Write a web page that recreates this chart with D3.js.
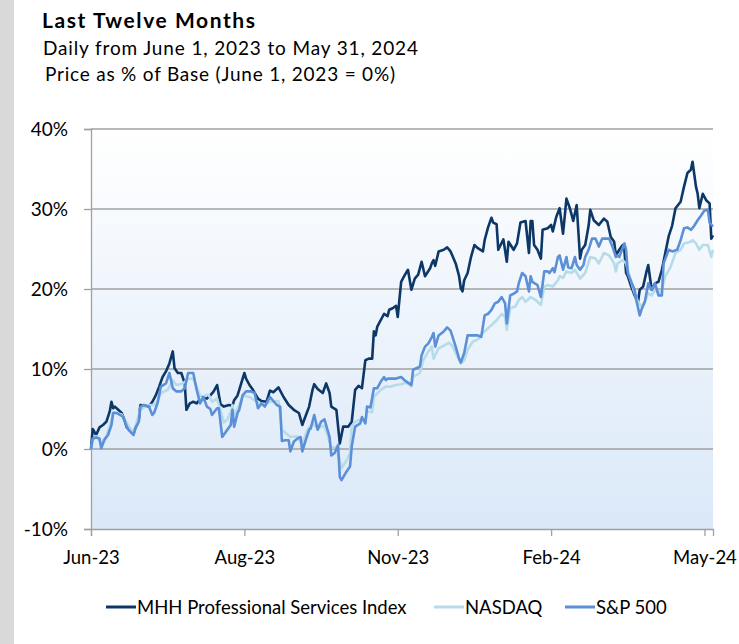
<!DOCTYPE html>
<html>
<head>
<meta charset="utf-8">
<script src="https://cdn.jsdelivr.net/npm/d3@7"></script>
<style>
  body { margin: 0; background: #fff; }
  svg { display: block; font-family: Lato, "Open Sans", sans-serif; }
</style>
</head>
<body>
<div id="chart"></div>
<script>
// [days since June 1, 2023, % change vs base]
const mhhSeries = [[0,0],[1,2.5],[3,1.75],[5,2.7],[7,3.0],[9,3.4],[11,4.7],[12,5.9],[13,5.1],[14,5.3],[16,4.9],[18,4.5],[20,3.4],[21,2.7],[23,2.4],[25,2.0],[26,2.6],[28,3.6],[29,5.5],[32,5.4],[34,5.3],[36,5.9],[38,6.7],[40,7.8],[42,9.0],[44,9.7],[46,10.7],[48,12.2],[49,10.1],[51,9.5],[53,9.5],[55,8.2],[56,4.9],[58,5.7],[60,5.9],[62,5.7],[65,6.5],[68,6.3],[70,6.7],[72,7.2],[74,8.0],[76,5.6],[78,5.3],[81,5.5],[83,5.4],[84,6.1],[86,6.7],[87,7.4],[90,9.5],[91,8.8],[93,8.0],[95,7.4],[98,6.3],[100,6.0],[103,5.9],[105,7.3],[107,7.1],[110,7.7],[113,6.5],[116,5.5],[119,4.9],[122,4.5],[124,3.0],[125,3.6],[128,5.3],[130,7.4],[131,8.1],[133,7.5],[136,7.0],[138,8.2],[140,7.0],[141,5.3],[144,4.9],[146,0.7],[148,2.8],[151,2.8],[153,3.4],[155,7.4],[157,7.9],[159,7.6],[161,11.1],[163,11.3],[165,11.3],[166,14.7],[167,14.2],[168,15.3],[171,16.5],[172,16.9],[174,16.6],[175,17.4],[177,17.6],[179,17.9],[180,16.5],[182,20.9],[184,21.7],[186,22.4],[188,19.9],[190,21.3],[192,21.8],[194,23.4],[196,21.6],[199,22.6],[200,23.2],[201,23.6],[202,22.9],[204,24.7],[207,24.9],[209,25.2],[211,24.7],[214,23.2],[216,21.6],[217,20.1],[218,19.7],[219,21.1],[221,22.0],[223,24.0],[225,25.5],[227,25.1],[230,24.7],[231,26.1],[233,27.7],[235,28.9],[236,28.3],[238,28.1],[239,24.9],[242,26.2],[244,23.4],[245,25.9],[248,24.9],[250,25.7],[252,28.3],[255,28.5],[257,24.5],[258,28.5],[259,28.5],[260,25.5],[262,24.9],[264,23.8],[265,27.4],[268,27.6],[270,28.0],[271,27.2],[273,29.0],[275,30.1],[277,26.9],[279,31.3],[281,30.1],[283,28.5],[285,30.5],[287,23.8],[288,24.9],[290,25.5],[292,27.9],[293,29.9],[295,28.6],[298,28.0],[301,28.8],[303,28.4],[305,26.5],[307,25.9],[308,24.2],[310,24.9],[312,25.5],[313,24.9],[314,22.0],[315,21.6],[317,20.3],[319,19.2],[321,18.4],[322,19.9],[324,20.3],[326,22.2],[327,23.0],[329,19.9],[331,20.7],[333,20.9],[335,22.4],[337,24.5],[339,26.6],[341,27.9],[343,30.1],[346,30.9],[348,32.8],[350,34.5],[352,34.9],[353,35.9],[355,32.8],[356,31.9],[357,30.1],[359,31.9],[361,31.1],[363,30.7],[364,26.3],[365,26.7]];

const nasdaqSeries = [[0,0],[1,1.1],[3,1.6],[6,0.7],[9,1.6],[12,3.6],[13,4.6],[18,4.3],[23,2.6],[25,2.0],[29,5.0],[34,5.5],[37,5.5],[39,5.9],[41,7.0],[45,7.4],[48,8.6],[50,8.0],[54,8.2],[57,8.8],[60,8.8],[62,7.8],[65,6.1],[67,6.7],[69,6.8],[71,5.9],[74,6.3],[78,3.3],[80,3.7],[82,4.6],[83,5.5],[84,4.2],[87,5.5],[89,6.7],[93,6.5],[98,5.8],[102,5.5],[105,5.9],[110,6.0],[112,2.4],[117,1.5],[121,1.6],[124,0.6],[127,2.4],[130,3.2],[133,2.6],[137,2.9],[141,0.2],[144,0.2],[147,-2.4],[150,-1.4],[152,-0.5],[153,2.8],[155,3.4],[159,3.8],[161,3.4],[162,4.7],[165,4.6],[166,6.5],[170,7.4],[173,7.8],[176,7.8],[179,8.0],[182,8.1],[185,8.3],[188,7.8],[189,9.0],[193,9.5],[195,11.1],[198,12.2],[200,12.8],[201,11.3],[204,12.6],[207,12.9],[210,13.3],[212,12.9],[214,12.0],[217,10.7],[219,11.1],[221,12.4],[224,13.4],[227,13.7],[230,14.5],[232,14.9],[234,15.3],[238,16.1],[241,16.9],[243,16.5],[244,14.9],[246,17.6],[249,17.8],[251,18.6],[253,19.0],[255,18.4],[258,19.0],[261,18.6],[264,18.0],[266,20.3],[268,20.5],[271,20.3],[274,21.1],[275,21.6],[277,21.4],[279,22.2],[282,22.0],[284,22.4],[287,21.3],[290,22.0],[293,24.0],[296,23.8],[298,23.2],[301,24.5],[304,24.2],[307,23.2],[308,22.2],[309,23.2],[312,23.6],[314,23.2],[316,21.6],[319,19.5],[321,18.4],[323,17.8],[325,18.4],[327,19.5],[329,19.2],[331,19.9],[333,19.5],[335,19.9],[337,21.6],[340,22.7],[343,24.5],[346,24.9],[348,25.7],[352,25.9],[353,26.1],[355,25.7],[357,24.9],[359,25.5],[361,25.5],[362,25.5],[364,24.0],[365,24.9]];

const spSeries = [[0,0],[1,1.3],[3,1.45],[5,1.3],[6,0.1],[8,1.2],[10,1.75],[12,3.0],[13,4.5],[15,4.5],[17,4.25],[19,4.0],[21,2.8],[22,2.4],[25,1.75],[26,2.6],[28,3.4],[29,5.3],[31,5.5],[32,5.4],[34,5.3],[36,4.25],[37,4.5],[39,5.7],[41,7.8],[44,8.2],[46,9.5],[48,7.6],[50,7.2],[53,7.2],[55,7.6],[57,9.5],[60,9.5],[62,7.4],[64,5.7],[66,6.5],[68,5.3],[70,5.0],[71,4.25],[74,5.1],[75,5.1],[77,1.5],[80,2.4],[82,3.0],[83,4.9],[84,2.8],[86,4.5],[87,4.9],[89,6.7],[91,7.2],[94,7.2],[96,7.0],[98,5.1],[100,5.7],[102,5.3],[104,6.1],[105,6.5],[109,5.5],[111,5.3],[112,1.0],[114,1.1],[116,1.1],[117,-0.3],[119,0.9],[121,1.3],[123,1.5],[124,-0.3],[126,1.1],[128,2.4],[129,2.6],[131,4.25],[133,2.4],[135,3.4],[137,3.7],[140,1.5],[141,-0.8],[143,-0.5],[145,0.5],[146,-3.5],[147,-3.9],[150,-2.8],[152,-2.2],[153,0.3],[155,2.8],[158,3.2],[159,4.0],[161,3.2],[162,5.3],[164,5.2],[166,7.6],[168,7.6],[170,8.4],[172,9.0],[173,8.6],[174,8.8],[176,8.8],[179,8.8],[182,9.0],[184,8.6],[186,8.3],[188,8.0],[189,9.9],[191,10.1],[193,10.3],[194,11.7],[196,12.8],[198,13.2],[200,14.0],[201,14.5],[202,12.8],[204,14.2],[207,14.7],[209,15.2],[211,14.8],[214,12.8],[216,11.3],[217,10.8],[219,12.0],[221,14.2],[224,14.2],[227,14.2],[229,14.0],[231,16.7],[233,16.9],[235,17.4],[237,18.2],[239,18.4],[241,19.0],[243,18.2],[244,15.7],[246,19.2],[248,19.4],[250,19.7],[251,20.7],[253,22.0],[255,21.6],[257,19.7],[258,21.6],[259,20.9],[262,20.5],[264,19.0],[266,22.2],[268,22.2],[269,22.0],[271,22.6],[272,22.1],[274,24.0],[275,24.2],[277,22.4],[279,24.0],[280,22.7],[282,22.6],[284,24.0],[285,23.0],[287,22.4],[289,23.0],[290,24.0],[292,24.9],[294,26.3],[296,26.3],[298,25.3],[300,26.3],[302,26.3],[304,26.3],[306,25.3],[308,24.0],[309,24.2],[310,24.0],[313,25.7],[314,24.9],[315,22.0],[317,20.9],[319,19.9],[320,18.6],[322,16.7],[323,17.4],[325,18.4],[327,20.7],[329,19.9],[331,20.7],[333,19.2],[335,19.2],[336,23.2],[339,24.9],[341,24.7],[344,24.9],[346,26.1],[348,27.6],[350,27.7],[352,27.4],[354,27.9],[356,28.6],[358,29.2],[360,29.8],[362,29.9],[363,28.3],[365,27.8]];

const seriesNames = ['MHH Professional Services Index', 'NASDAQ', 'S&P 500'];
const seriesColors = ['#0c3766', '#b5dce8', '#5b8fd8'];
const yTicks = [-10, 0, 10, 20, 30, 40];
const xTickDays = [0, 90, 180, 270, 360];   // Excel date axis, major unit 90 days

const width = 739;
const height = 644;
const margin = { top: 129, right: 26, bottom: 115, left: 91 };
const plotW = width - margin.left - margin.right;
const plotH = height - margin.top - margin.bottom;

const baseDate = new Date(2023, 5, 1);
const toDate = d => d3.timeDay.offset(baseDate, d);

const svg = d3.select('#chart')
  .append('svg')
  .attr('width', width)
  .attr('height', height);

// grey strip down the left edge
svg.append('rect')
  .attr('x', 0).attr('y', 0)
  .attr('width', 14).attr('height', height)
  .attr('fill', '#d9d9d9');

// TITLES (stretched a little to match the wider original face)
svg.append('text')
  .attr('x', 42).attr('y', 28)
  .attr('font-size', 21).attr('font-weight', 700)
  .attr('textLength', 213).attr('lengthAdjust', 'spacing')
  .attr('fill', '#000')
  .text('Last Twelve Months');
svg.append('text')
  .attr('x', 43).attr('y', 55)
  .attr('font-size', 19)
  .attr('textLength', 375).attr('lengthAdjust', 'spacing')
  .attr('fill', '#000')
  .text('Daily from June 1, 2023 to May 31, 2024');
svg.append('text')
  .attr('x', 45).attr('y', 81)
  .attr('font-size', 19)
  .attr('textLength', 350).attr('lengthAdjust', 'spacing')
  .attr('fill', '#000')
  .text('Price as % of Base (June 1, 2023 = 0%)');

const g = svg.append('g')
  .attr('transform', 'translate(' + margin.left + ',' + margin.top + ')');

// SCALES
const xScale = d3.scaleTime()
  .domain([baseDate, toDate(365)])
  .range([0, plotW]);

const yScale = d3.scaleLinear()
  .domain([-10, 40])
  .range([plotH, 0]);

// plot background gradient
const defs = svg.append('defs');
const grad = defs.append('linearGradient')
  .attr('id', 'plotBg')
  .attr('x1', 0).attr('y1', 0).attr('x2', 0).attr('y2', 1);
grad.append('stop').attr('offset', '0%').attr('stop-color', '#ffffff');
grad.append('stop').attr('offset', '100%').attr('stop-color', '#dae8f8');

g.append('rect')
  .attr('width', plotW)
  .attr('height', plotH)
  .attr('fill', 'url(#plotBg)');

// GRIDLINES
g.append('g')
  .selectAll('line')
  .data(yTicks.filter(t => t !== -10))
  .enter()
  .append('line')
  .attr('x1', 0).attr('x2', plotW)
  .attr('y1', d => yScale(d)).attr('y2', d => yScale(d))
  .attr('stroke', '#a0a0a0')
  .attr('stroke-width', 1.3);

// Y-AXIS
const yAxis = g.append('g')
  .attr('class', 'axis y-axis')
  .call(d3.axisLeft(yScale).tickValues(yTicks).tickSize(7).tickPadding(16)
    .tickFormat(d => d + '%'));

// X-AXIS
const xAxis = g.append('g')
  .attr('class', 'axis x-axis')
  .attr('transform', 'translate(0,' + plotH + ')')
  .call(d3.axisBottom(xScale).tickValues(xTickDays.map(toDate)).tickSize(7).tickPadding(15)
    .tickFormat(d3.timeFormat('%b-%y')));

[yAxis, xAxis].forEach(ax => {
  ax.select('.domain').attr('stroke', '#a0a0a0').attr('stroke-width', 1.3);
  ax.selectAll('.tick line').attr('stroke', '#a0a0a0').attr('stroke-width', 1.3);
  ax.selectAll('.tick text')
    .attr('fill', '#000')
    .style('font-family', 'Lato, "Open Sans", sans-serif');
});
yAxis.selectAll('.tick text').attr('font-size', 19);
xAxis.selectAll('.tick text').attr('font-size', 18.5);

// LINES
const line = d3.line()
  .x(d => xScale(toDate(d[0])))
  .y(d => yScale(d[1]));

[mhhSeries, nasdaqSeries, spSeries].forEach((series, i) => {
  g.append('path')
    .datum(series)
    .attr('fill', 'none')
    .attr('stroke', seriesColors[i])
    .attr('stroke-width', 2.6)
    .attr('stroke-linejoin', 'round')
    .attr('d', line);
});

// LEGEND
const legend = svg.append('g').attr('transform', 'translate(0,607)');
const legendX = [106, 434, 565];
seriesNames.forEach((name, i) => {
  legend.append('line')
    .attr('x1', legendX[i]).attr('x2', legendX[i] + 30)
    .attr('y1', 0).attr('y2', 0)
    .attr('stroke', seriesColors[i])
    .attr('stroke-width', 3);
  legend.append('text')
    .attr('x', legendX[i] + 31).attr('y', 6.5)
    .attr('font-size', 18.5)
    .attr('fill', '#000')
    .text(name);
});
</script>
</body>
</html>
